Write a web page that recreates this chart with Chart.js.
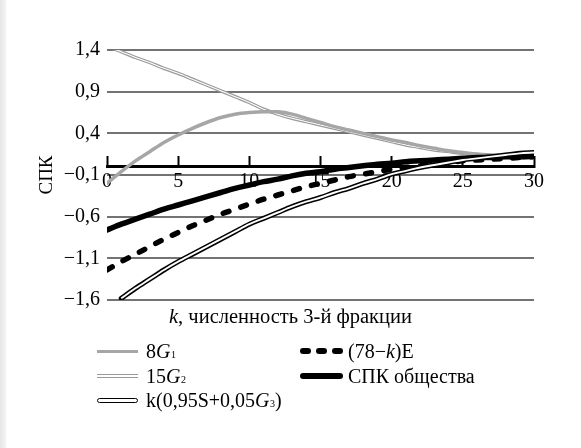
<!DOCTYPE html>
<html lang="ru">
<head>
<meta charset="utf-8">
<title>СПК общества</title>
<script src="https://cdn.jsdelivr.net/npm/chart.js@4/dist/chart.umd.min.js"></script>
<style>
  html, body { margin: 0; padding: 0; background: #fff; }
  #wrap { position: relative; width: 581px; height: 448px; overflow: hidden; font-family: "Liberation Serif", "DejaVu Serif", serif; color: #000; }
  #edge { position: absolute; left: 0; top: 0; width: 6px; height: 448px; background: linear-gradient(to right, #e6e6e6, #f3f3f3); }
  #c { position: absolute; left: 0; top: 0; }
  #xtitle { position: absolute; left: 0; width: 581px; top: 303px; text-align: center; font-size: 20.5px; line-height: 27px; }
  .leg { position: absolute; font-size: 20px; line-height: 24.5px; }
  .row { display: flex; align-items: center; height: 24.5px; white-space: nowrap; }
  .row sub { font-size: 10px; position: relative; top: 4px; vertical-align: baseline; font-style: normal; margin-left: 0.5px; }
  .sw { display: inline-block; width: 41px; margin-right: 8px; box-sizing: border-box; }
  .sw-g1 { height: 3.5px; background: #a6a6a6; }
  .sw-g2 { height: 4.5px; border-top: 1.3px solid #9a9a9a; border-bottom: 1.3px solid #9a9a9a; }
  .sw-k { height: 5.5px; border: 1.7px solid #000; border-radius: 3px; }
  .sw-e { height: 6px; display: inline-flex; justify-content: space-between; width: 43px; margin-right: 5px; }
  .sw-e span { display: block; width: 11px; height: 6px; background: #000; border-radius: 3px; }
  .sw-s { width: 43px; margin-right: 5px; height: 5.5px; background: #000; border-radius: 3px; }
</style>
</head>
<body>
<div id="wrap">
  <div id="edge"></div>
  <canvas id="c" width="581" height="448"></canvas>
  <div id="xtitle"><i>k</i>, численность 3-й фракции</div>
  <div class="leg" style="left:97px; top:339px;">
    <div class="row"><span class="sw sw-g1"></span>8<i>G</i><sub>1</sub></div>
    <div class="row"><span class="sw sw-g2"></span>15<i>G</i><sub>2</sub></div>
    <div class="row"><span class="sw sw-k"></span>k(0,95S+0,05<i>G</i><sub>3</sub>)</div>
  </div>
  <div class="leg" style="left:300px; top:339px;">
    <div class="row"><span class="sw-e"><span></span><span></span><span></span></span>(78−<i>k</i>)E</div>
    <div class="row"><span class="sw-s"></span>СПК общества</div>
  </div>
</div>
<script>
// k, численность 3-й фракции
const kValues = [0, 1, 2, 3, 4, 5, 6, 7, 8, 9, 10, 11, 12, 13, 14, 15, 16, 17, 18, 19, 20, 21, 22, 23, 24, 25, 26, 27, 28, 29, 30];

// 8G1
const g1Values = [-0.20, -0.06, 0.07, 0.18, 0.29, 0.38, 0.46, 0.53, 0.59, 0.63, 0.65, 0.66, 0.66, 0.63, 0.58, 0.53, 0.48, 0.44, 0.40, 0.36, 0.32, 0.29, 0.25, 0.22, 0.19, 0.17, 0.15, 0.13, 0.12, 0.11, 0.10];

// 15G2
const g2Values = [1.44, 1.38, 1.31, 1.25, 1.18, 1.12, 1.05, 0.98, 0.91, 0.84, 0.77, 0.69, 0.63, 0.58, 0.54, 0.50, 0.46, 0.42, 0.38, 0.34, 0.30, 0.26, 0.23, 0.20, 0.18, 0.16, 0.15, 0.14, 0.13, 0.12, 0.11];

// k(0,95S+0,05G3), начиная с k = 1
const kSValues = [null, -1.58, -1.46, -1.35, -1.24, -1.14, -1.05, -0.96, -0.87, -0.78, -0.69, -0.62, -0.55, -0.48, -0.42, -0.37, -0.31, -0.26, -0.20, -0.15, -0.09, -0.05, -0.01, 0.02, 0.05, 0.08, 0.10, 0.12, 0.14, 0.16, 0.17];

// (78-k)E
const eValues = [-1.24, -1.14, -1.05, -0.96, -0.87, -0.79, -0.71, -0.64, -0.57, -0.51, -0.45, -0.39, -0.34, -0.29, -0.24, -0.20, -0.16, -0.12, -0.09, -0.06, -0.03, -0.01, 0.01, 0.03, 0.05, 0.07, 0.08, 0.09, 0.10, 0.11, 0.12];

// СПК общества
const spkValues = [-0.76, -0.69, -0.63, -0.57, -0.51, -0.46, -0.41, -0.36, -0.31, -0.26, -0.22, -0.18, -0.15, -0.11, -0.08, -0.06, -0.03, -0.01, 0.01, 0.03, 0.04, 0.06, 0.07, 0.08, 0.09, 0.10, 0.11, 0.11, 0.12, 0.12, 0.13];

// деления осей
const yTicks = [-1.6, -1.1, -0.6, -0.1, 0.4, 0.9, 1.4];
const xTicks = [0, 5, 10, 15, 20, 25, 30];

const FONT = '"Liberation Serif", "DejaVu Serif", serif';

function line(data, color, width, order, extra) {
  return Object.assign({
    data: data,
    borderColor: color,
    backgroundColor: color,
    borderWidth: width,
    pointRadius: 0,
    pointHoverRadius: 0,
    fill: false,
    cubicInterpolationMode: 'monotone',
    borderCapStyle: 'round',
    borderJoinStyle: 'round',
    spanGaps: false,
    order: order
  }, extra || {});
}

const fmt = v => (v < 0 ? '\u2212' : '') + Math.abs(v).toFixed(1).replace('.', ',');

new Chart(document.getElementById('c'), {
  type: 'line',
  data: {
    labels: kValues,
    datasets: [
      // двойная чёрная линия: контур и белая середина
      line(kSValues, '#ffffff', 1.9, 0, { borderCapStyle: 'butt' }),
      line(kSValues, '#000000', 5.0, 1),
      line(eValues, '#000000', 5.5, 2, { borderDash: [6, 12.5] }),
      line(spkValues, '#000000', 5.5, 3),
      line(g1Values, '#a6a6a6', 3.5, 4),
      // двойная серая линия
      line(g2Values, '#ffffff', 1.1, 5, { borderCapStyle: 'butt' }),
      line(g2Values, '#9a9a9a', 3.4, 6)
    ]
  },
  options: {
    responsive: false,
    animation: false,
    devicePixelRatio: 1,
    layout: { padding: { left: 0, top: 50, right: 47, bottom: 148 } },
    plugins: { legend: { display: false }, tooltip: { enabled: false } },
    scales: {
      x: {
        type: 'linear',
        min: 0,
        max: 30,
        position: { y: 0 },
        afterBuildTicks: s => { s.ticks = xTicks.map(v => ({ value: v })); },
        ticks: {
          autoSkip: false,
          maxRotation: 0,
          padding: 15,
          color: '#000',
          font: { family: FONT, size: 20 },
          callback: v => String(v)
        },
        grid: {
          drawOnChartArea: false,
          drawTicks: true,
          tickLength: -12,
          tickColor: '#000',
          tickWidth: 2
        },
        border: { display: true, color: '#000', width: 3 }
      },
      y: {
        type: 'linear',
        min: -1.6,
        max: 1.4,
        afterBuildTicks: s => { s.ticks = yTicks.map(v => ({ value: v })); },
        afterFit: s => { s.width = 107; },
        ticks: {
          padding: 7,
          color: '#000',
          font: { family: FONT, size: 20 },
          callback: v => fmt(v)
        },
        grid: {
          color: '#737373',
          lineWidth: 2,
          drawTicks: false
        },
        border: { display: false },
        title: {
          display: true,
          text: 'СПК',
          color: '#000',
          font: { family: FONT, size: 19 },
          padding: { top: 36, bottom: 0 }
        }
      }
    }
  }
});
</script>
</body>
</html>
